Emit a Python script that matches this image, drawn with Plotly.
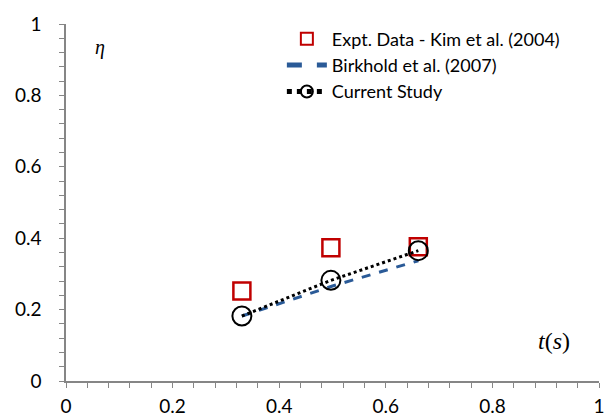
import plotly.graph_objects as go

# Experimental data (Kim et al., 2004)
t_expt = [0.33, 0.497, 0.661]
eta_expt = [0.252, 0.373, 0.376]

# Birkhold et al. (2007)
t_birk = [0.33, 0.50, 0.661]
eta_birk = [0.182, 0.266, 0.337]

# Current study
t_curr = [0.33, 0.497, 0.661]
eta_curr = [0.182, 0.282, 0.365]

x_ticks = [0, 0.2, 0.4, 0.6, 0.8, 1]
y_ticks = [0, 0.2, 0.4, 0.6, 0.8, 1]

axis_grey = "#868686"
font_main = "Lato, 'Open Sans', sans-serif"

fig = go.Figure()
fig.add_trace(go.Scatter(
    x=t_expt, y=eta_expt, mode="markers",
    name="Expt. Data - Kim et al. (2004)",
    marker=dict(symbol="square-open", size=17, color="#C00000",
                line=dict(width=2.5, color="#C00000")),
))
fig.add_trace(go.Scatter(
    x=t_birk, y=eta_birk, mode="lines",
    name="Birkhold et al. (2007)",
    line=dict(color="#2A5A97", width=3, dash="dash"),
))
fig.add_trace(go.Scatter(
    x=t_curr, y=eta_curr, mode="lines+markers",
    name="Current Study",
    line=dict(color="black", width=3, dash="dot"),
    marker=dict(symbol="circle-open", size=19, color="black",
                line=dict(width=2, color="black")),
))

axis_common = dict(
    showgrid=False, zeroline=False, showline=True, automargin=False,
    linecolor=axis_grey, linewidth=1.5,
    ticks="outside", tickcolor=axis_grey, ticklen=5, tickwidth=1.3,
    tickfont=dict(family=font_main, size=19, color="black"),
    minor=dict(ticks="outside", dtick=0.04, ticklen=5,
               tickcolor=axis_grey, tickwidth=1.3),
)

fig.update_xaxes(range=[0, 1], tickvals=x_ticks, ticklabelstandoff=2,
                 **axis_common)
fig.update_yaxes(range=[0, 1], tickvals=y_ticks, ticklabelstandoff=14,
                 **axis_common)

fig.add_annotation(x=0.064, y=0.935, xref="x", yref="y", text="<i>η</i>",
                   showarrow=False,
                   font=dict(family="'Liberation Serif', serif", size=20,
                             color="black"))
fig.add_annotation(x=0.915, y=0.112, xref="x", yref="y",
                   text="<i>t</i>(<i>s</i>)", showarrow=False,
                   font=dict(family="'Liberation Serif', serif", size=24,
                             color="black"))

fig.update_layout(
    width=605, height=420,
    margin=dict(l=66, r=6, t=24, b=39),
    plot_bgcolor="white", paper_bgcolor="white",
    showlegend=True,
    legend=dict(x=0.405, y=1.01, xanchor="left", yanchor="top",
                bgcolor="rgba(0,0,0,0)", itemwidth=40, itemsizing="constant",
                font=dict(family=font_main, size=18, color="black"),
                tracegroupgap=0),
)

fig.write_html("out.html")
